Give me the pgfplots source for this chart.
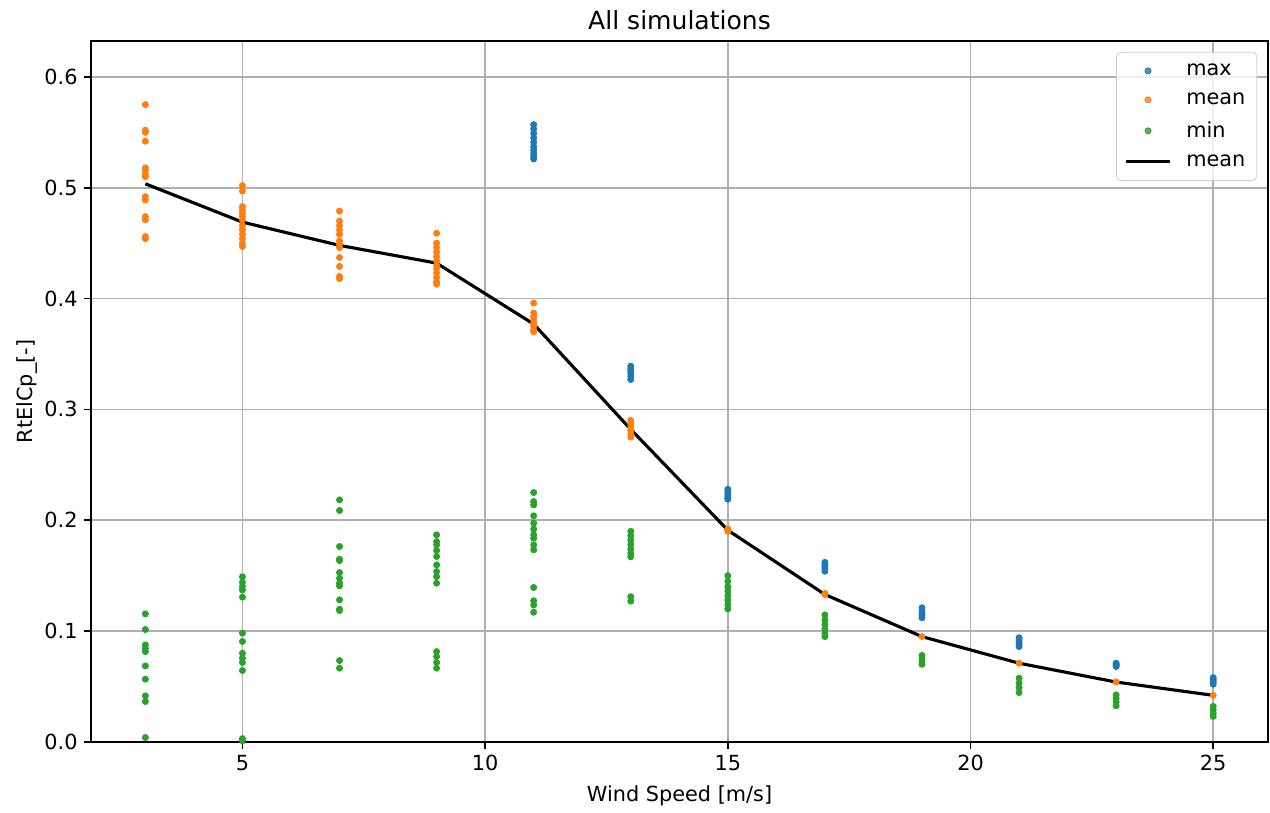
\documentclass[border=0pt]{standalone}
\usepackage{fontspec}
\setmainfont{DejaVu Sans}
\usepackage{pgfplots}
\pgfplotsset{compat=1.18}
\definecolor{c0}{HTML}{1F77B4}
\definecolor{c1}{HTML}{FF7F0E}
\definecolor{c2}{HTML}{2CA02C}
\definecolor{gridc}{HTML}{B0B0B0}
\begin{document}
\begin{tikzpicture}
\path[use as bounding box] (-51.6pt,-40.25pt) rectangle (668.4pt,420.6pt);
\begin{axis}[
  at={(0,0)}, anchor=south west,
  scale only axis, width=667.3pt, height=397.4pt,
  xmin=1.88, xmax=26.13, ymin=0, ymax=0.6325,
  xtick={5,10,15,20,25},
  ytick={0,0.1,0.2,0.3,0.4,0.5,0.6},
  yticklabel style={/pgf/number format/fixed,/pgf/number format/fixed zerofill,/pgf/number format/precision=1},
  /pgf/number format/assume math mode=true,
  tick label style={font=\fontsize{11.8}{14}\selectfont},
  label style={font=\fontsize{11.8}{14}\selectfont},
  tick align=outside, major tick length=4.1pt,
  tick style={black, line width=0.94pt},
  xtick pos=bottom, ytick pos=left,
  axis line style={line width=0.94pt},
  grid=major, grid style={color=gridc, line width=0.94pt},
  title={All simulations},
  title style={font=\fontsize{14.2}{17}\selectfont, yshift=-3pt},
  xlabel={Wind Speed [m/s]},
  ylabel={RtElCp\_[-]},
  xlabel style={yshift=-1.5pt},
  ylabel style={yshift=-3pt},
  legend style={at={(0.9907,0.9843)}, anchor=north east, draw=black!20, rounded corners=2.5pt,
    fill=white, fill opacity=0.8, text opacity=1, font=\fontsize{11.8}{14}\selectfont,
    row sep=4.3pt, inner xsep=4.5pt, inner ysep=4.5pt},
  legend cell align=left,
  legend image code/.code={\draw[mark repeat=2,mark phase=2,#1] plot coordinates {(0cm,0cm) (0.44cm,0cm) (0.88cm,0cm)}; \path (1.1cm,0cm);},
]
\addplot[only marks, mark=*, mark size=1.75pt, color=c0, mark options={draw=c0, fill=c0}] coordinates {
(11,0.557)(11,0.553)(11,0.549)(11,0.545)(11,0.541)(11,0.537)(11,0.534)(11,0.531)(11,0.528)(11,0.526)
(13,0.339)(13,0.337)(13,0.335)(13,0.333)(13,0.330)(13,0.327)
(15,0.228)(15,0.226)(15,0.224)(15,0.222)(15,0.220)(15,0.219)
(17,0.162)(17,0.160)(17,0.158)(17,0.156)(17,0.154)
(19,0.121)(19,0.118)(19,0.116)(19,0.114)(19,0.112)
(21,0.094)(21,0.092)(21,0.090)(21,0.088)(21,0.086)
(23,0.071)(23,0.070)(23,0.069)(23,0.068)
(25,0.058)(25,0.056)(25,0.054)(25,0.052)
};
\addlegendentry{max}
\addplot[only marks, mark=*, mark size=1.75pt, color=c1, mark options={draw=c1, fill=c1}] coordinates {
(3,0.575)(3,0.552)(3,0.550)(3,0.542)(3,0.518)(3,0.516)(3,0.512)(3,0.510)(3,0.492)(3,0.489)(3,0.474)(3,0.471)(3,0.456)(3,0.454)
(5,0.502)(5,0.497)(5,0.483)(5,0.480)(5,0.477)(5,0.474)(5,0.471)(5,0.466)(5,0.462)(5,0.458)(5,0.454)(5,0.450)(5,0.447)
(7,0.479)(7,0.470)(7,0.466)(7,0.462)(7,0.458)(7,0.452)(7,0.449)(7,0.446)(7,0.437)(7,0.429)(7,0.420)(7,0.418)
(9,0.459)(9,0.450)(9,0.446)(9,0.442)(9,0.438)(9,0.434)(9,0.430)(9,0.427)(9,0.423)(9,0.419)(9,0.415)(9,0.413)
(11,0.396)(11,0.387)(11,0.384)(11,0.381)(11,0.378)(11,0.375)(11,0.372)(11,0.370)
(13,0.290)(13,0.287)(13,0.284)(13,0.281)(13,0.278)(13,0.275)
(15,0.192)(15,0.191)(15,0.190)
(17,0.134)(17,0.133)
(19,0.095)(21,0.071)(23,0.054)(25,0.042)
};
\addlegendentry{mean}
\addplot[only marks, mark=*, mark size=1.75pt, color=c2, mark options={draw=c2, fill=c2}] coordinates {
(3,0.1155)(3,0.1014)(3,0.0875)(3,0.0845)(3,0.0815)(3,0.0686)(3,0.0566)(3,0.0415)(3,0.0364)(3,0.0039)
(5,0.149)(5,0.144)(5,0.140)(5,0.137)(5,0.1306)(5,0.0981)(5,0.0906)(5,0.080)(5,0.0755)(5,0.0716)(5,0.0644)(5,0.003)(5,0.001)
(7,0.2184)(7,0.2088)(7,0.1763)(7,0.1649)(7,0.1636)(7,0.1528)(7,0.1477)(7,0.1432)(7,0.1408)(7,0.1282)(7,0.1198)(7,0.1185)(7,0.0734)(7,0.0665)
(9,0.1868)(9,0.1808)(9,0.1778)(9,0.1727)(9,0.1673)(9,0.1597)(9,0.1537)(9,0.1492)(9,0.1432)(9,0.0815)(9,0.077)(9,0.0716)(9,0.0665)
(11,0.225)(11,0.2169)(11,0.2139)(11,0.204)(11,0.1974)(11,0.192)(11,0.1868)(11,0.1838)(11,0.1778)(11,0.1733)(11,0.1393)(11,0.1273)(11,0.1236)(11,0.117)
(13,0.190)(13,0.186)(13,0.182)(13,0.178)(13,0.174)(13,0.170)(13,0.167)(13,0.131)(13,0.127)
(15,0.150)(15,0.145)(15,0.140)(15,0.136)(15,0.132)(15,0.128)(15,0.124)(15,0.120)
(17,0.1146)(17,0.110)(17,0.106)(17,0.102)(17,0.098)(17,0.095)
(19,0.078)(19,0.075)(19,0.072)(19,0.070)
(21,0.0575)(21,0.053)(21,0.049)(21,0.0445)
(23,0.0424)(23,0.039)(23,0.036)(23,0.0325)
(25,0.032)(25,0.029)(25,0.026)(25,0.023)
};
\addlegendentry{min}
\addplot[black, line width=1.77pt, mark=none] coordinates {
(3,0.5036)(5,0.469)(7,0.448)(9,0.432)(11,0.377)(13,0.282)(15,0.191)(17,0.133)(19,0.095)(21,0.071)(23,0.054)(25,0.042)
};
\addlegendentry{mean}
\end{axis}
\end{tikzpicture}
\end{document}
